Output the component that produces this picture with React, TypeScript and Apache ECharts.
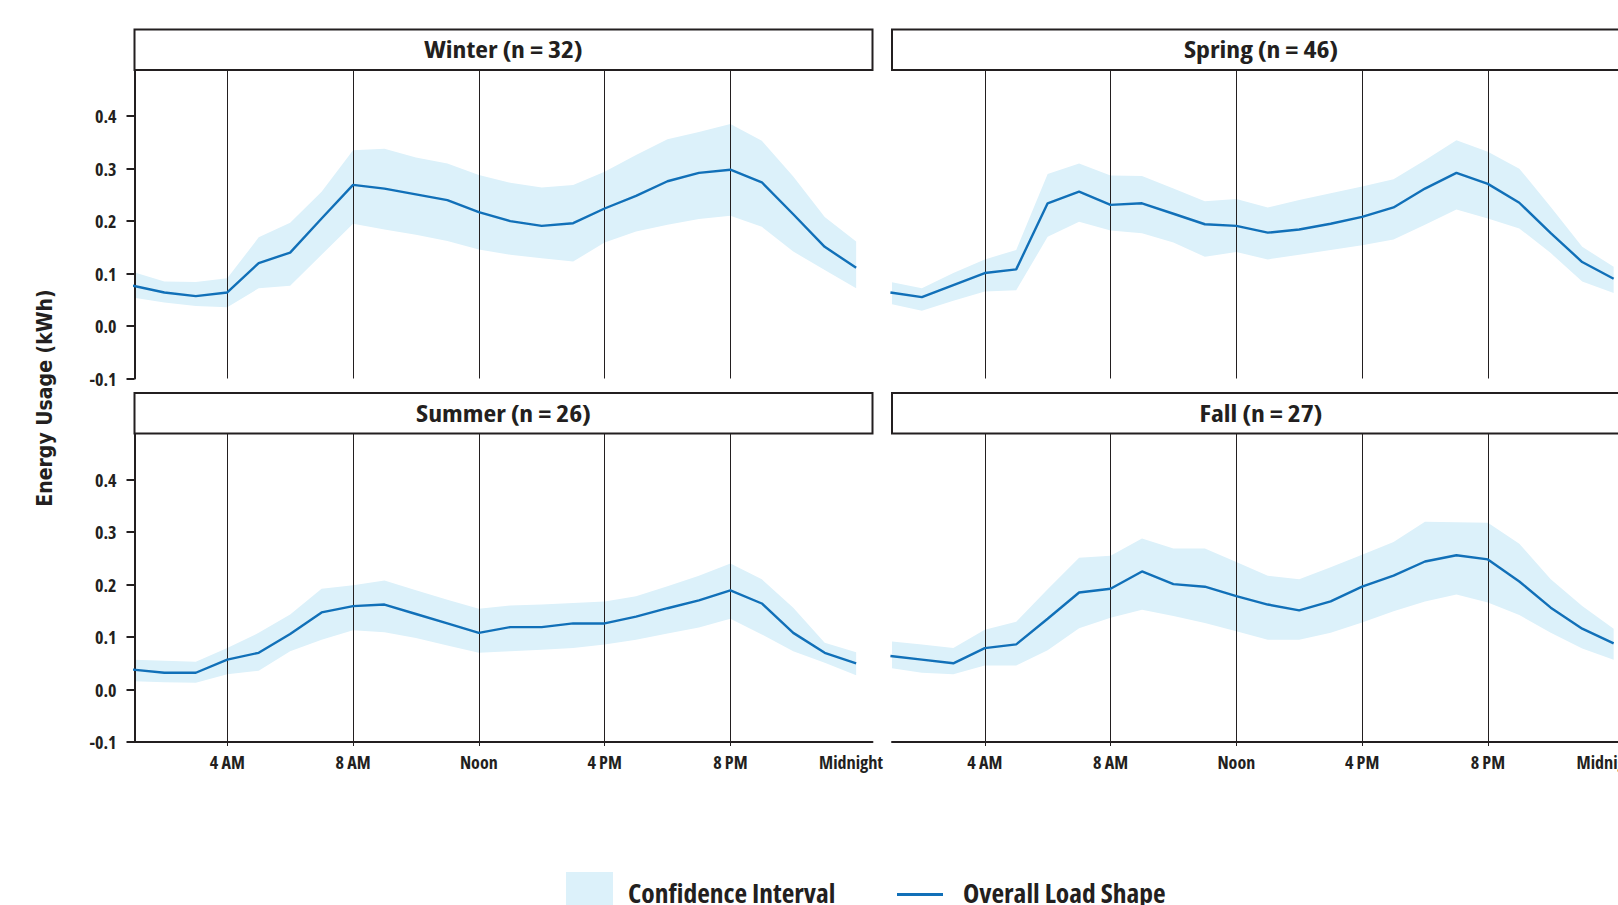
import React, { useEffect, useRef } from 'react';
import * as echarts from 'echarts';

const hours = [1, 2, 3, 4, 5, 6, 7, 8, 9, 10, 11, 12, 13, 14, 15, 16, 17, 18, 19, 20, 21, 22, 23, 24];
const tickHours = [4, 8, 12, 16, 20];
const labelHours = [4, 8, 12, 16, 20, 24];
const hourLabels = ['4 AM', '8 AM', 'Noon', '4 PM', '8 PM', 'Midnight'];
const yTicks = [-0.1, 0, 0.1, 0.2, 0.3, 0.4];
const panelTitles = ['Winter (n = 32)', 'Spring (n = 46)', 'Summer (n = 26)', 'Fall (n = 27)'];

const winterMean = [0.077, 0.064, 0.057, 0.064, 0.120, 0.140, 0.205, 0.269, 0.262, 0.251, 0.240, 0.217, 0.200, 0.191, 0.196, 0.224, 0.248, 0.276, 0.292, 0.298, 0.274, 0.213, 0.151, 0.111];
const winterUpper = [0.103, 0.085, 0.084, 0.091, 0.169, 0.197, 0.256, 0.335, 0.338, 0.321, 0.310, 0.288, 0.273, 0.264, 0.269, 0.294, 0.326, 0.356, 0.370, 0.385, 0.353, 0.285, 0.208, 0.161];
const winterLower = [0.054, 0.045, 0.038, 0.036, 0.072, 0.077, 0.136, 0.195, 0.184, 0.174, 0.162, 0.146, 0.136, 0.129, 0.123, 0.159, 0.180, 0.193, 0.204, 0.210, 0.189, 0.142, 0.107, 0.072];

const springMean = [0.064, 0.055, 0.078, 0.101, 0.108, 0.234, 0.256, 0.231, 0.234, 0.214, 0.194, 0.191, 0.178, 0.184, 0.195, 0.208, 0.226, 0.262, 0.292, 0.271, 0.235, 0.177, 0.122, 0.090];
const springUpper = [0.084, 0.072, 0.101, 0.127, 0.145, 0.290, 0.310, 0.287, 0.286, 0.262, 0.238, 0.242, 0.226, 0.240, 0.253, 0.266, 0.280, 0.316, 0.354, 0.332, 0.300, 0.227, 0.151, 0.113];
const springLower = [0.042, 0.029, 0.048, 0.066, 0.068, 0.170, 0.199, 0.182, 0.177, 0.159, 0.132, 0.141, 0.127, 0.136, 0.145, 0.154, 0.165, 0.193, 0.222, 0.205, 0.186, 0.139, 0.085, 0.063];

const summerMean = [0.038, 0.032, 0.032, 0.057, 0.070, 0.106, 0.147, 0.159, 0.162, 0.144, 0.126, 0.108, 0.119, 0.119, 0.126, 0.126, 0.139, 0.155, 0.170, 0.189, 0.164, 0.108, 0.070, 0.050];
const summerUpper = [0.057, 0.055, 0.053, 0.079, 0.108, 0.143, 0.192, 0.199, 0.208, 0.189, 0.171, 0.154, 0.160, 0.162, 0.165, 0.168, 0.178, 0.197, 0.217, 0.240, 0.210, 0.156, 0.089, 0.071];
const summerLower = [0.016, 0.014, 0.013, 0.029, 0.036, 0.073, 0.095, 0.113, 0.109, 0.098, 0.084, 0.070, 0.073, 0.076, 0.079, 0.086, 0.095, 0.107, 0.118, 0.135, 0.105, 0.073, 0.051, 0.027];

const fallMean = [0.064, 0.057, 0.050, 0.079, 0.086, 0.135, 0.185, 0.192, 0.225, 0.201, 0.196, 0.178, 0.162, 0.151, 0.168, 0.196, 0.217, 0.244, 0.256, 0.248, 0.206, 0.156, 0.116, 0.088];
const fallUpper = [0.092, 0.086, 0.079, 0.114, 0.129, 0.191, 0.251, 0.255, 0.288, 0.269, 0.269, 0.243, 0.217, 0.210, 0.233, 0.257, 0.281, 0.320, 0.319, 0.318, 0.278, 0.210, 0.159, 0.116];
const fallLower = [0.041, 0.032, 0.029, 0.046, 0.046, 0.075, 0.117, 0.137, 0.152, 0.140, 0.127, 0.111, 0.095, 0.095, 0.108, 0.128, 0.149, 0.168, 0.181, 0.166, 0.142, 0.108, 0.078, 0.057];

const means = [winterMean, springMean, summerMean, fallMean];
const uppers = [winterUpper, springUpper, summerUpper, fallUpper];
const lowers = [winterLower, springLower, summerLower, fallLower];

const INK = '#231f20';
const LINE = '#1170b8';
const BAND = '#dcf1fa';
const COND = "'Open Sans', 'DejaVu Sans Condensed', sans-serif";
const COND_FAMILY = "'Open Sans Condensed', 'Open Sans', 'DejaVu Sans Condensed', sans-serif";
const WIDE = "'DejaVu Sans Condensed', 'DejaVu Sans', sans-serif";
const COND_WEIGHT = 'bold condensed';

const CHART_W = 1640;
const CHART_H = 905;
const PANEL_W = 738;
const PANEL_H = 308.5;
const panelLeft = [134.5, 892, 134.5, 892];
const panelTop = [70, 70, 433.5, 433.5];
const STRIP_H = 40.5;

function buildOption() {
  const grid: any[] = [];
  const xAxis: any[] = [];
  const yAxis: any[] = [];
  const series: any[] = [];
  const graphic: any[] = [];

  for (let i = 0; i < 4; i++) {
    const isBottom = i >= 2;
    const isLeft = i % 2 === 0;
    grid.push({ left: panelLeft[i], top: panelTop[i], width: PANEL_W, height: PANEL_H, containLabel: false, outerBoundsMode: 'none' });
    xAxis.push({
      type: 'value', gridIndex: i, min: 1.05, max: 24.52, z: 1,
      axisLine: { show: isBottom, onZero: false, lineStyle: { color: INK, width: 2 } },
      axisTick: { show: isBottom, length: 4, customValues: tickHours, lineStyle: { color: INK, width: 1 } },
      axisLabel: {
        show: isBottom, customValues: labelHours, margin: 11, hideOverlap: false,
        formatter: (v: number) => {
          const idx = labelHours.indexOf(Math.round(v));
          if (idx < 0) return '';
          return idx === labelHours.length - 1 ? `{m|${hourLabels[idx]}}` : hourLabels[idx];
        },
        fontFamily: COND, fontWeight: COND_WEIGHT, fontSize: 18, color: INK,
        rich: { m: { fontFamily: COND_FAMILY, fontWeight: 'bold', fontSize: 18, color: INK, padding: [0, 10, 0, 0] } },
      },
      splitLine: { show: true, lineStyle: { color: INK, width: 1 } },
    });
    yAxis.push({
      type: 'value', gridIndex: i, min: -0.1, max: 0.488, z: 1,
      axisLine: { show: isLeft, onZero: false, lineStyle: { color: INK, width: 2 } },
      axisTick: { show: isLeft, length: 8, customValues: yTicks, lineStyle: { color: INK, width: 2 } },
      axisLabel: {
        show: isLeft, customValues: yTicks, margin: 18,
        formatter: (v: number) => v.toFixed(1),
        fontFamily: COND, fontWeight: COND_WEIGHT, fontSize: 18, color: INK,
        rich: { n: {} },
      },
      splitLine: { show: false },
    });
    const up = uppers[i];
    const lo = lowers[i];
    series.push({
      type: 'custom', xAxisIndex: i, yAxisIndex: i, z: 0, clip: true, silent: true,
      data: hours.map((h, k) => [h, lo[k], up[k]]),
      encode: { x: 0, y: [1, 2] },
      renderItem: (params: any, api: any) => {
        if (params.dataIndex !== 0) return null;
        const pts: number[][] = [];
        for (let k = 0; k < hours.length; k++) pts.push(api.coord([hours[k], up[k]]));
        for (let k = hours.length - 1; k >= 0; k--) pts.push(api.coord([hours[k], lo[k]]));
        return { type: 'polygon', shape: { points: pts }, style: { fill: BAND, stroke: 'none' } };
      },
    });
    series.push({
      type: 'line', xAxisIndex: i, yAxisIndex: i, z: 2, clip: true, symbol: 'none',
      data: hours.map((h, k) => [h, means[i][k]]),
      lineStyle: { color: LINE, width: 2.4 },
    });

    const stripTop = panelTop[i] - STRIP_H;
    graphic.push({
      type: 'rect', z: 10,
      shape: { x: panelLeft[i], y: stripTop, width: PANEL_W, height: STRIP_H },
      style: { fill: '#fff', stroke: INK, lineWidth: 2 },
    });
    graphic.push({
      type: 'text', z: 11,
      x: panelLeft[i] + PANEL_W / 2, y: stripTop + STRIP_H / 2, scaleX: 1.18,
      style: { text: panelTitles[i], fill: INK, font: `${COND_WEIGHT} 23.5px ${COND}`, textAlign: 'center', textVerticalAlign: 'middle' },
    });
  }

  graphic.push({
    type: 'text', x: 45, y: 398, rotation: Math.PI / 2,
    style: { text: 'Energy Usage (kWh)', fill: INK, font: `bold 21px ${WIDE}`, textAlign: 'center', textVerticalAlign: 'middle' },
  });
  graphic.push({ type: 'rect', shape: { x: 566, y: 872, width: 47, height: 40 }, style: { fill: BAND } });
  graphic.push({
    type: 'text', x: 628, y: 892.5,
    style: { text: 'Confidence Interval', fill: INK, font: `${COND_WEIGHT} 27.5px ${COND}`, textAlign: 'left', textVerticalAlign: 'middle' },
  });
  graphic.push({ type: 'line', shape: { x1: 897, y1: 894.5, x2: 943, y2: 894.5 }, style: { stroke: LINE, lineWidth: 3 } });
  graphic.push({
    type: 'text', x: 963, y: 892.5,
    style: { text: 'Overall Load Shape', fill: INK, font: `${COND_WEIGHT} 27.5px ${COND}`, textAlign: 'left', textVerticalAlign: 'middle' },
  });

  return {
    animation: false,
    backgroundColor: '#fff',
    grid, xAxis, yAxis, series, graphic,
  };
}

export default function App() {
  const ref = useRef<HTMLDivElement>(null);
  useEffect(() => {
    const chart = echarts.init(ref.current as HTMLDivElement, null, { renderer: 'svg' });
    chart.setOption(buildOption() as any);
    return () => chart.dispose();
  }, []);
  return (
    <div style={{ position: 'absolute', left: 0, top: 0, width: 1618, height: 905, overflow: 'hidden', background: '#fff' }}>
      <div ref={ref} style={{ width: CHART_W, height: CHART_H }} />
    </div>
  );
}
